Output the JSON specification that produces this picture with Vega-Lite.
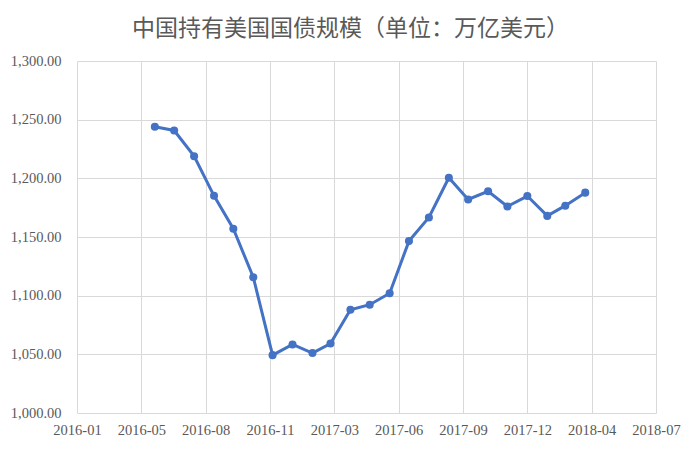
{
  "$schema": "https://vega.github.io/schema/vega-lite/v6.json",
  "width": 579,
  "height": 352,
  "autosize": "none",
  "padding": {"left": 77, "top": 61, "right": 40, "bottom": 37},
  "background": "white",
  "title": {
    "text": "中国持有美国国债规模（单位：万亿美元）",
    "font": "Noto Sans CJK SC",
    "fontSize": 23,
    "fontWeight": "normal",
    "color": "#595959",
    "anchor": "middle",
    "dx": -16,
    "offset": 12
  },
  "data": {
    "values": [
      {"date": "2016-05-31", "value": 1243.9},
      {"date": "2016-06-30", "value": 1240.8},
      {"date": "2016-07-31", "value": 1218.9},
      {"date": "2016-08-31", "value": 1185.1},
      {"date": "2016-09-30", "value": 1157.0},
      {"date": "2016-10-31", "value": 1115.7},
      {"date": "2016-11-30", "value": 1049.3},
      {"date": "2016-12-31", "value": 1058.4},
      {"date": "2017-01-31", "value": 1051.1},
      {"date": "2017-02-28", "value": 1059.2},
      {"date": "2017-03-31", "value": 1088.0},
      {"date": "2017-04-30", "value": 1092.3},
      {"date": "2017-05-31", "value": 1102.0},
      {"date": "2017-06-30", "value": 1146.5},
      {"date": "2017-07-31", "value": 1166.6},
      {"date": "2017-08-31", "value": 1200.5},
      {"date": "2017-09-30", "value": 1182.0},
      {"date": "2017-10-31", "value": 1189.0},
      {"date": "2017-11-30", "value": 1176.0},
      {"date": "2017-12-31", "value": 1184.9},
      {"date": "2018-01-31", "value": 1168.0},
      {"date": "2018-02-28", "value": 1176.7},
      {"date": "2018-03-31", "value": 1187.8}
    ]
  },
  "mark": {"type": "line", "color": "#4472C4", "strokeWidth": 3, "point": {"filled": true, "size": 65, "color": "#4472C4", "opacity": 1}},
  "encoding": {
    "x": {
      "field": "date",
      "type": "temporal",
      "title": null,
      "scale": {
        "type": "utc",
        "nice": false,
        "domain": [
          {"year": 2016, "month": 1, "date": 31, "utc": true},
          {"year": 2018, "month": 7, "date": 19, "utc": true}
        ]
      },
      "axis": {
        "values": [
          {"year": 2016, "month": 1, "date": 31, "utc": true},
          {"year": 2016, "month": 5, "date": 10, "utc": true},
          {"year": 2016, "month": 8, "date": 18, "utc": true},
          {"year": 2016, "month": 11, "date": 26, "utc": true},
          {"year": 2017, "month": 3, "date": 6, "utc": true},
          {"year": 2017, "month": 6, "date": 14, "utc": true},
          {"year": 2017, "month": 9, "date": 22, "utc": true},
          {"year": 2017, "month": 12, "date": 31, "utc": true},
          {"year": 2018, "month": 4, "date": 10, "utc": true},
          {"year": 2018, "month": 7, "date": 19, "utc": true}
        ],
        "labelExpr": "utcFormat(datum.value, '%Y-%m')",
        "labelFont": "Liberation Serif",
        "labelFontSize": 14.5,
        "labelColor": "#595959",
        "labelPadding": 10,
        "labelFlush": false,
        "labelOverlap": false
      }
    },
    "y": {
      "field": "value",
      "type": "quantitative",
      "title": null,
      "scale": {"domain": [1000, 1300], "nice": false, "zero": false},
      "axis": {
        "values": [1000, 1050, 1100, 1150, 1200, 1250, 1300],
        "format": ",.2f",
        "labelFont": "Liberation Serif",
        "labelFontSize": 14.5,
        "labelColor": "#595959",
        "labelPadding": 16
      }
    }
  },
  "config": {
    "view": {"stroke": null},
    "axis": {
      "domain": false,
      "ticks": false,
      "grid": true,
      "gridColor": "#D9D9D9",
      "gridWidth": 1,
      "gridOpacity": 1
    }
  }
}
